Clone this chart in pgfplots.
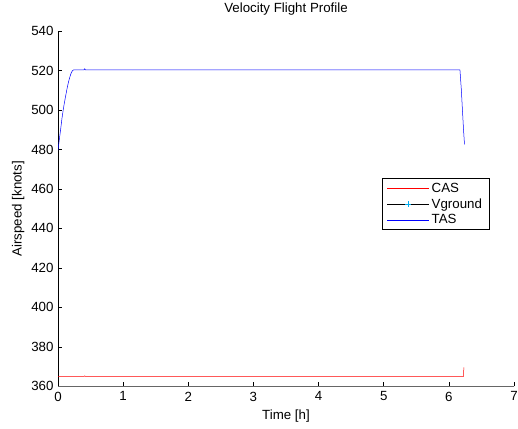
\documentclass[border=0pt]{standalone}
\usepackage{pgfplots}
\pgfplotsset{compat=1.18}
\usepackage{fontspec}
\setmainfont{Liberation Sans}
\newcommand{\fs}{\fontsize{13.3}{15}\selectfont}
\begin{document}
\begin{tikzpicture}
\useasboundingbox (-58pt,-41.7pt) rectangle (460pt,386.3pt);
\begin{axis}[
  at={(0,0)}, anchor=south west,
  scale only axis, width=456pt, height=355.3pt,
  xmin=0, xmax=7, ymin=360, ymax=540,
  xtick={0,1,...,7}, ytick={360,380,...,540},
  axis x line*=bottom, axis y line*=left,
  x axis line style={draw=black!60, line width=0.8pt},
  y axis line style={draw=black, line width=0.6pt},
  tick align=inside, major tick length=4pt,
  tick style={black, line width=0.6pt},
  /pgf/number format/assume math mode=true,
  /pgf/number format/1000 sep={},
  tick label style={font=\fs},
  yticklabel style={xshift=-1pt},
  xticklabel style={yshift=-2pt},
  title={Velocity Flight Profile}, title style={font=\fs, at={(0.5,1)}, anchor=south, yshift=6pt},
  xlabel={Time [h]}, ylabel={Airspeed [knots]},
  label style={font=\fs},
  xlabel style={at={(0.5,0)}, anchor=north, yshift=-20pt},
  ylabel style={at={(0,0.5)}, anchor=south, yshift=30pt},
  legend image code/.code={\draw[#1] (0pt,0pt) -- (42pt,0pt);},
  legend style={at={(0.71,0.585)}, anchor=north west, draw=black, fill=white,
    font=\fs, inner xsep=5pt, inner ysep=2pt, row sep=1pt, line width=0.6pt,
    cells={anchor=west}},
]
\addplot[red, line width=0.5pt] coordinates {
(0,365) (0.40,365) (0.41,365.3) (0.42,365) (6.225,365) (6.23,369.6)
};
\addlegendentry{CAS}
\addlegendimage{legend image code/.code={\path (0pt,0pt) -- (42pt,0pt); \draw[cyan, line width=0.5pt] plot[mark=+, mark size=3pt] coordinates {(21pt,0pt)};}}
\addlegendentry{Vground}
\addplot[blue, line width=0.5pt] coordinates {
(0,479.6) (0.02,485) (0.04,490) (0.06,495.5) (0.08,500) (0.10,504)
(0.12,507.5) (0.14,511) (0.16,514) (0.18,516.5) (0.20,518.5)
(0.22,519.8) (0.24,520.3) (0.40,520.3) (0.41,520.9) (0.42,520.3)
(6.17,520.3) (6.19,511) (6.21,499) (6.225,490) (6.24,482.5)
};
\addlegendentry{TAS}
\end{axis}
\end{tikzpicture}
\end{document}
